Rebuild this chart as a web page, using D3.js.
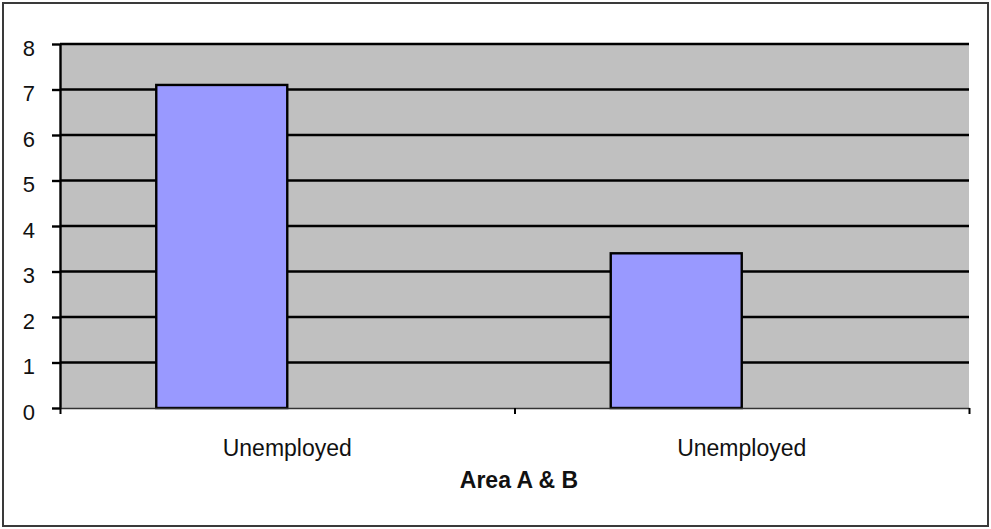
<!DOCTYPE html>
<html><head><meta charset="utf-8">
<script src="https://cdn.jsdelivr.net/npm/d3@7"></script>
<style>body{margin:0;background:#fff}svg{display:block}text{font-family:"Liberation Sans",Arial,sans-serif}</style>
</head><body><svg id="c" width="991" height="529"></svg>
<script>
const categories = ["Unemployed", "Unemployed"];
const seriesNames = ["Series1", "Series2"];
const series1 = [7.1, 3.4];
const series2 = [null, null];
const yTicks = [0,1,2,3,4,5,6,7,8];
const xTitle = "Area A & B";

const svg = d3.select("#c");
const W = 991, H = 529;
const m = {l:60, r:22, t:44, b:121};
const pw = W - m.l - m.r, ph = H - m.t - m.b;

svg.append("rect").attr("x",3).attr("y",3).attr("width",985).attr("height",523)
  .attr("fill","#fff").attr("stroke","#3a3a3a").attr("stroke-width",2);

const g = svg.append("g").attr("transform",`translate(${m.l},${m.t})`);
const x0 = d3.scaleBand().domain(d3.range(categories.length)).range([0,pw]).paddingInner(0.4235).paddingOuter(0.2118);
const x1 = d3.scaleBand().domain(seriesNames).range([0,x0.bandwidth()]);
const y = d3.scaleLinear().domain([0,8]).range([ph,0]);

g.append("rect").attr("width",pw).attr("height",ph).attr("fill","#c0c0c0");

g.selectAll(".grid").data(yTicks.filter(d=>d>0)).join("line")
  .attr("x1",0).attr("x2",pw).attr("y1",d=>y(d)).attr("y2",d=>y(d))
  .attr("stroke","#000").attr("stroke-width",2.4);

const data = categories.map((c,i)=>({i, vals:[series1[i], series2[i]]}));
g.selectAll(".grp").data(data).join("g").attr("transform",d=>`translate(${x0(d.i)},0)`)
  .selectAll("rect").data(d=>d.vals.map((v,k)=>({v,k})).filter(o=>o.v!=null)).join("rect")
  .attr("x",o=>x1(seriesNames[o.k])).attr("width",x1.bandwidth())
  .attr("y",o=>y(o.v)).attr("height",o=>y(0)-y(o.v))
  .attr("fill","#9999ff").attr("stroke","#000").attr("stroke-width",2.4);

// y axis
const ya = g.append("g").call(d3.axisLeft(y).tickValues(yTicks).tickSize(8).tickSizeOuter(0).tickPadding(17));
ya.select(".domain").attr("stroke","#000").attr("stroke-width",2.4);
ya.selectAll(".tick line").attr("stroke","#000").attr("stroke-width",2.4);
ya.selectAll(".tick text").attr("font-size",22).attr("fill","#111").attr("font-family","Liberation Sans, Arial, sans-serif").attr("dy","0.5em");

// x axis: ticks at category boundaries
const xb = d3.scaleLinear().domain([0,categories.length]).range([0,pw]);
const xa = g.append("g").attr("transform",`translate(0,${ph})`)
  .call(d3.axisBottom(xb).tickValues(d3.range(categories.length+1)).tickSize(6).tickSizeOuter(0).tickFormat(""));
xa.select(".domain").attr("stroke","#333").attr("stroke-width",1.5);
xa.selectAll(".tick line").attr("stroke","#000").attr("stroke-width",2);

g.selectAll(".cat").data(categories).join("text")
  .attr("x",(d,i)=>x0(i)+x0.bandwidth()/2).attr("y",ph+48)
  .attr("text-anchor","middle").attr("font-size",23).attr("fill","#111").text(d=>d);

svg.append("text").attr("x",519).attr("y",488).attr("text-anchor","middle")
  .attr("font-size",23).attr("font-weight","bold").attr("fill","#111").text(xTitle);
</script></body></html>
